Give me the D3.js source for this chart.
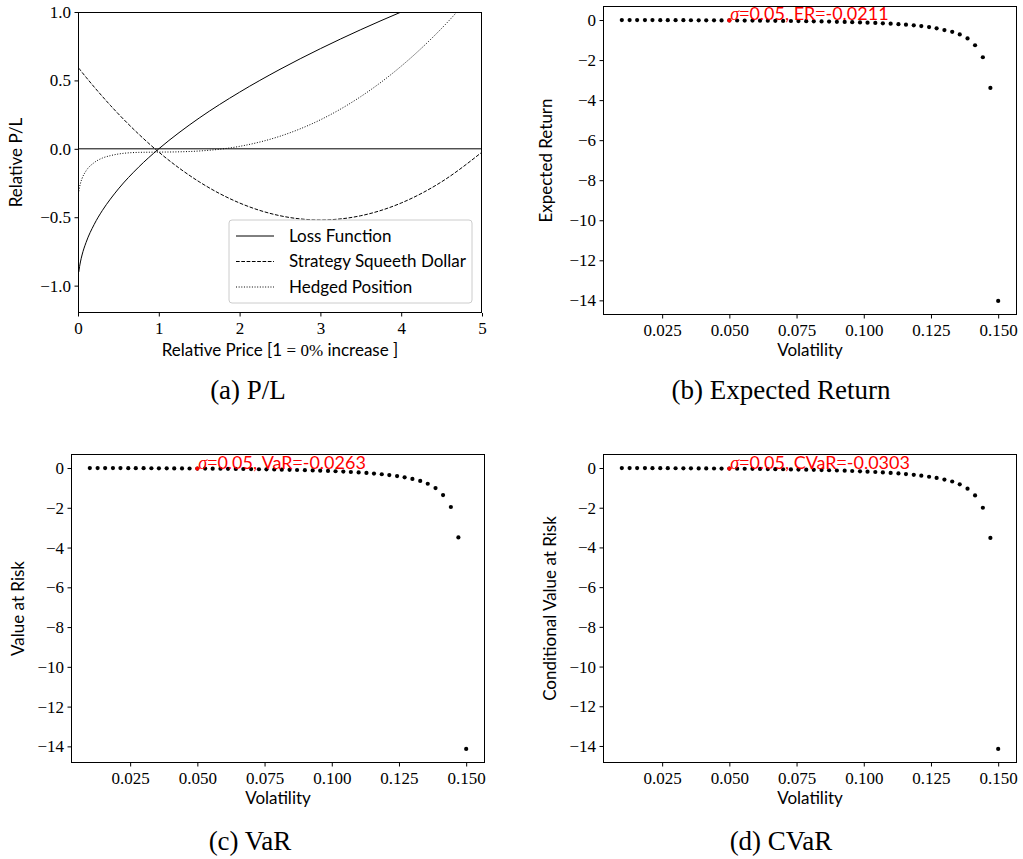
<!DOCTYPE html>
<html>
<head>
<meta charset="utf-8">
<script src="https://cdn.jsdelivr.net/npm/d3@7"></script>
<style>
  body { margin: 0; background: #fff; }
  svg { display: block; }
  .tick text { font-family: "Liberation Serif", "DejaVu Serif", serif !important; }
</style>
</head>
<body>
<script>
// ---- data ----
// (a) P/L curves
const price = [0.01, 0.02, 0.03, 0.05, 0.1, 0.2, 0.3, 0.4, 0.5, 0.75, 1, 1.25, 1.5, 2, 2.5, 3, 3.5, 4, 4.5, 5];
const lossFunction = [-0.90, -0.859, -0.827, -0.776, -0.684, -0.553, -0.452, -0.368, -0.293, -0.134, 0, 0.118, 0.225, 0.414, 0.581, 0.732, 0.871, 1.0, 1.121, 1.236];
const squeethDollar = [0.589, 0.582, 0.574, 0.559, 0.523, 0.452, 0.384, 0.318, 0.255, 0.108, -0.024, -0.140, -0.241, -0.396, -0.489, -0.52, -0.489, -0.396, -0.241, -0.024];
const hedgedPosition = [-0.311, -0.277, -0.253, -0.217, -0.161, -0.101, -0.068, -0.050, -0.038, -0.026, -0.024, -0.022, -0.016, 0.018, 0.092, 0.212, 0.382, 0.604, 0.880, 1.212];
const legendLabels = ["Loss Function", "Strategy Squeeth Dollar", "Hedged Position"];

// (b)-(d) risk measures against volatility
const volatility = [
  0.0100, 0.0129, 0.0157, 0.0186, 0.0214, 0.0243, 0.0271, 0.0300, 0.0329, 0.0357,
  0.0386, 0.0414, 0.0443, 0.0471, 0.0500, 0.0529, 0.0557, 0.0586, 0.0614, 0.0643,
  0.0671, 0.0700, 0.0729, 0.0757, 0.0786, 0.0814, 0.0843, 0.0871, 0.0900, 0.0929,
  0.0957, 0.0986, 0.1014, 0.1043, 0.1071, 0.1100, 0.1129, 0.1157, 0.1186, 0.1214,
  0.1243, 0.1271, 0.1300, 0.1329, 0.1357, 0.1386, 0.1414, 0.1443, 0.1471, 0.1500];
const expectedReturn = [
  -0.0008, -0.0014, -0.0021, -0.0029, -0.0039, -0.0050, -0.0062, -0.0076, -0.0091, -0.0108,
  -0.0126, -0.0145, -0.0166, -0.0188, -0.0211, -0.0237, -0.0264, -0.0294, -0.0326, -0.0361,
  -0.0399, -0.0440, -0.0485, -0.0535, -0.0590, -0.0650, -0.0716, -0.0790, -0.0872, -0.0965,
  -0.107, -0.118, -0.131, -0.146, -0.163, -0.182, -0.205, -0.232, -0.264, -0.302,
  -0.350, -0.415, -0.50, -0.59, -0.72, -0.92, -1.26, -1.86, -3.39, -14.03];
const valueAtRisk = [
  -0.0010, -0.0017, -0.0026, -0.0036, -0.0049, -0.0062, -0.0077, -0.0095, -0.0113, -0.0134,
  -0.0157, -0.0181, -0.0207, -0.0234, -0.0263, -0.0295, -0.0329, -0.0366, -0.0406, -0.0450,
  -0.0497, -0.0548, -0.0604, -0.0666, -0.0734, -0.0809, -0.0891, -0.0983, -0.108, -0.120,
  -0.132, -0.146, -0.161, -0.179, -0.199, -0.221, -0.247, -0.277, -0.312, -0.354,
  -0.405, -0.47, -0.55, -0.65, -0.79, -1.01, -1.36, -1.96, -3.49, -14.13];
const conditionalVaR = [
  -0.0012, -0.0020, -0.0030, -0.0042, -0.0056, -0.0072, -0.0089, -0.0109, -0.0130, -0.0154,
  -0.0180, -0.0208, -0.0238, -0.0270, -0.0303, -0.0340, -0.0379, -0.0421, -0.0467, -0.0517,
  -0.0571, -0.0629, -0.0693, -0.0763, -0.0840, -0.0925, -0.102, -0.112, -0.124, -0.136,
  -0.150, -0.165, -0.182, -0.201, -0.222, -0.246, -0.273, -0.305, -0.342, -0.386,
  -0.44, -0.50, -0.58, -0.68, -0.82, -1.04, -1.38, -2.00, -3.52, -14.15];

const sigmaMarked = 0.05;
const markedIndex = 14;
const noteNames = ["ER", "VaR", "CVaR"];
const noteValues = ["-0.0211", "-0.0263", "-0.0303"];
const yLabels = ["Expected Return", "Value at Risk", "Conditional Value at Risk"];
const captions = ["(a) P/L", "(b) Expected Return", "(c) VaR", "(d) CVaR"];

const plTicksX = [0, 1, 2, 3, 4, 5];
const plTicksY = [-1.0, -0.5, 0.0, 0.5, 1.0];
const volTicks = [0.025, 0.050, 0.075, 0.100, 0.125, 0.150];
const riskTicks = [0, -2, -4, -6, -8, -10, -12, -14];

// ---- layout ----
const SERIF = "Liberation Serif, DejaVu Serif, serif";
const SANS = "Lato, DejaVu Sans, sans-serif";
const W = 1023, H = 859;

const svg = d3.select("body").append("svg")
  .attr("width", W)
  .attr("height", H);

function frame(g, box) {
  g.append("rect")
    .attr("x", box.left + 0.5)
    .attr("y", box.top + 0.5)
    .attr("width", box.right - box.left - 1)
    .attr("height", box.bottom - box.top - 1)
    .attr("fill", "none")
    .attr("stroke", "#000")
    .attr("stroke-width", 1)
    .attr("shape-rendering", "crispEdges");
}

function axes(g, box, x, y, xTicks, yTicks, xFmt, yFmt) {
  const ax = g.append("g")
    .attr("transform", "translate(0," + box.bottom + ")")
    .call(d3.axisBottom(x).tickValues(xTicks).tickFormat(xFmt).tickSize(3.5).tickPadding(5.5));
  const ay = g.append("g")
    .attr("transform", "translate(" + box.left + ",0)")
    .call(d3.axisLeft(y).tickValues(yTicks).tickFormat(yFmt).tickSize(3.5).tickPadding(3.5));
  [ax, ay].forEach((a) => {
    a.attr("font-family", SERIF).attr("font-size", 17);
    a.select(".domain").remove();
    a.selectAll("line").attr("stroke", "#000").attr("stroke-width", 1);
    a.selectAll("text")
      .attr("fill", "#000")
      .attr("font-family", SERIF)
      .attr("font-size", 17);
  });
}

function labels(g, box, xText, yText, yLabelX) {
  if (xText !== null) {
    g.append("text")
      .attr("x", (box.left + box.right) / 2)
      .attr("y", box.bottom + 41)
      .attr("text-anchor", "middle")
      .attr("font-family", SANS)
      .attr("font-size", 17)
      .text(xText);
  }
  g.append("text")
    .attr("transform", "translate(" + yLabelX + "," + (box.top + box.bottom) / 2 + ") rotate(-90)")
    .attr("text-anchor", "middle")
    .attr("dy", "0.36em")
    .attr("font-family", SANS)
    .attr("font-size", 17)
    .text(yText);
}

function caption(text, cx, baseline) {
  svg.append("text")
    .attr("x", cx)
    .attr("y", baseline)
    .attr("text-anchor", "middle")
    .attr("font-family", SERIF)
    .attr("font-size", 27)
    .text(text);
}

// ---- (a) P/L ----
(function () {
  const box = { left: 78, right: 482, top: 12, bottom: 313 };
  const g = svg.append("g");
  const x = d3.scaleLinear().domain([0, 5]).range([box.left, box.right]);
  const y = d3.scaleLinear().domain([-1.2, 1.0]).range([box.bottom, box.top]);

  g.append("defs").append("clipPath").attr("id", "clipPL")
    .append("rect")
    .attr("x", box.left).attr("y", box.top)
    .attr("width", box.right - box.left).attr("height", box.bottom - box.top);

  const series = [
    { name: legendLabels[0], values: lossFunction, dash: null },
    { name: legendLabels[1], values: squeethDollar, dash: "3.7,1.6" },
    { name: legendLabels[2], values: hedgedPosition, dash: "1,1.65" },
  ];

  const line = d3.line()
    .x((d) => x(d[0]))
    .y((d) => y(d[1]))
    .curve(d3.curveMonotoneX);

  const content = g.append("g").attr("clip-path", "url(#clipPL)");

  // zero line
  content.append("line")
    .attr("x1", x(0)).attr("x2", x(5))
    .attr("y1", y(0)).attr("y2", y(0))
    .attr("stroke", "#000")
    .attr("stroke-width", 1);

  series.forEach((s) => {
    content.append("path")
      .datum(price.map((p, i) => [p, s.values[i]]))
      .attr("fill", "none")
      .attr("stroke", "#000")
      .attr("stroke-width", 1)
      .attr("stroke-dasharray", s.dash)
      .attr("d", line);
  });

  frame(g, box);
  axes(g, box, x, y, plTicksX, plTicksY, d3.format("d"), d3.format(".1f"));

  // x label with math part in serif
  const xl = g.append("text")
    .attr("x", (box.left + box.right) / 2)
    .attr("y", box.bottom + 43)
    .attr("text-anchor", "middle")
    .attr("font-family", SANS)
    .attr("font-size", 17);
  xl.append("tspan").text("Relative Price [1 ");
  xl.append("tspan").attr("font-family", SERIF).text("= 0%");
  xl.append("tspan").text(" increase ]");
  labels(g, box, null, "Relative P/L", 16);

  // legend
  const lg = g.append("g").attr("transform", "translate(229,220)");
  lg.append("rect")
    .attr("width", 243).attr("height", 83)
    .attr("rx", 3)
    .attr("fill", "#fff").attr("fill-opacity", 0.8)
    .attr("stroke", "#cccccc").attr("stroke-width", 1);
  series.forEach((s, i) => {
    const yy = 16 + i * 25.5;
    lg.append("line")
      .attr("x1", 7).attr("x2", 45)
      .attr("y1", yy).attr("y2", yy)
      .attr("stroke", "#000")
      .attr("stroke-width", 1)
      .attr("stroke-dasharray", s.dash);
    lg.append("text")
      .attr("x", 60).attr("y", yy)
      .attr("dy", "0.35em")
      .attr("font-family", SANS)
      .attr("font-size", 17)
      .text(s.name);
  });
})();

// ---- (b)-(d) scatter panels ----
function riskPanel(box, values, k, yLabelX) {
  const g = svg.append("g");
  const xExt = d3.extent(volatility);
  const xPad = (xExt[1] - xExt[0]) * 0.05;
  const yExt = d3.extent(values);
  const yPad = (yExt[1] - yExt[0]) * 0.05;
  const x = d3.scaleLinear().domain([xExt[0] - xPad, xExt[1] + xPad]).range([box.left, box.right]);
  const y = d3.scaleLinear().domain([yExt[0] - yPad, yExt[1] + yPad]).range([box.bottom, box.top]);

  g.selectAll("circle.pt")
    .data(volatility.map((v, i) => [v, values[i]]))
    .enter()
    .append("circle")
    .attr("class", "pt")
    .attr("cx", (d) => x(d[0]))
    .attr("cy", (d) => y(d[1]))
    .attr("r", 2.1)
    .attr("fill", "#000");

  g.append("circle")
    .attr("cx", x(sigmaMarked))
    .attr("cy", y(values[markedIndex]))
    .attr("r", 2.1)
    .attr("fill", "#ff0000");

  const note = g.append("text")
    .attr("x", x(sigmaMarked) + 1)
    .attr("y", y(values[markedIndex]))
    .attr("fill", "#ff0000")
    .attr("font-family", SANS)
    .attr("font-size", 18);
  note.append("tspan").attr("font-family", SERIF).attr("font-style", "italic").text("σ");
  note.append("tspan").attr("font-family", SERIF).text("=");
  note.append("tspan").text("0.05, " + noteNames[k]);
  note.append("tspan").attr("font-family", SERIF).text("=");
  note.append("tspan").text(noteValues[k]);

  frame(g, box);
  axes(g, box, x, y, volTicks, riskTicks, d3.format(".3f"), d3.format("d"));
  labels(g, box, "Volatility", yLabels[k], yLabelX);
}

riskPanel({ left: 603, right: 1017, top: 6, bottom: 315 }, expectedReturn, 0, 546);
riskPanel({ left: 71, right: 485, top: 454, bottom: 763 }, valueAtRisk, 1, 18);
riskPanel({ left: 603, right: 1017, top: 454, bottom: 763 }, conditionalVaR, 2, 550);

caption(captions[0], 248, 399);
caption(captions[1], 781, 399);
caption(captions[2], 250, 850);
caption(captions[3], 781, 850);
</script>
</body>
</html>
